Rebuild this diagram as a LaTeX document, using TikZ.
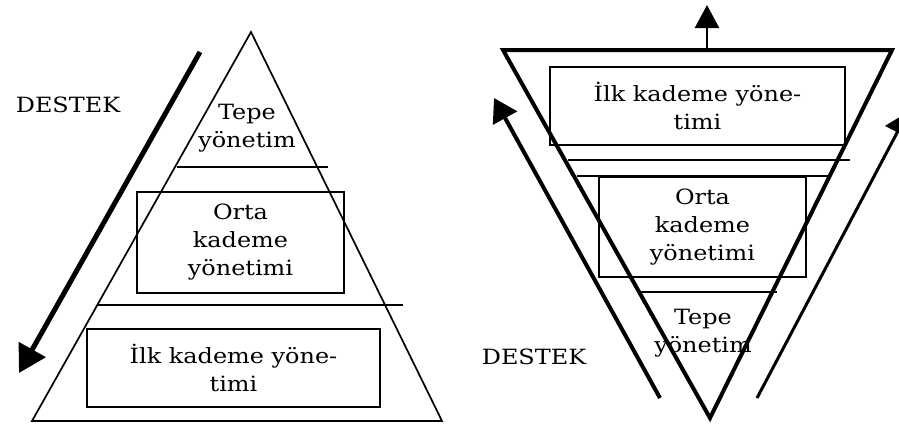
\documentclass[tikz,border=0pt]{standalone}
\usepackage{fontspec}
\setmainfont{DejaVu Serif}[FakeStretch=1.14]
\usetikzlibrary{arrows.meta}
\tikzset{
  lbl/.style={align=center, font=\fontsize{21}{28}\selectfont, inner sep=0pt},
  levelbox/.style={draw, line width=1.2pt, align=center,
    font=\fontsize{21}{28}\selectfont, inner sep=0pt},
  divider/.style={line width=1.2pt},
  thin tri/.style={line width=1.7pt, line join=miter},
  thick tri/.style={line width=4pt, line join=miter},
}
\begin{document}
\begin{tikzpicture}[x=1pt, y=-1pt]
\useasboundingbox (0,0) rectangle (899,426);
\clip (0,0) rectangle (899,426);

% ---------- Left: classic pyramid ----------
\coordinate (LA) at (251,32);
\coordinate (LB) at (32,421);
\coordinate (LC) at (442,421);
\draw[thin tri] (LA) -- (LB) -- (LC) -- cycle;

\coordinate (l1a) at (177,167); \coordinate (l1b) at (328,167);
\coordinate (l2a) at (98,305);  \coordinate (l2b) at (403,305);
\draw[divider] (l1a) -- (l1b);
\draw[divider] (l2a) -- (l2b);

\node[lbl] (ltepe) at (247,128) {Tepe\\yönetim};
\node[levelbox, minimum width=207pt, minimum height=101pt]
      (lorta) at (240.5,242.5) {Orta\\kademe\\yönetimi};
\node[levelbox, minimum width=293pt, minimum height=78pt]
      (lilk) at (233.5,368) {İlk kademe yöne-\\timi};

\node[lbl] (ldestek) at (68,105) {DESTEK};
\coordinate (larrS) at (200,52);
\coordinate (larrE) at (19,373);
\draw[line width=5pt, -{Triangle[length=27pt,width=30pt]}] (larrS) -- (larrE);

% ---------- Right: inverted pyramid ----------
\coordinate (RA) at (503,50);
\coordinate (RB) at (892,50);
\coordinate (RC) at (710,418);
\draw[thick tri] (RA) -- (RB) -- (RC) -- cycle;

\coordinate (r1a) at (568,160); \coordinate (r1b) at (850,160);
\coordinate (r2a) at (577,176); \coordinate (r2b) at (830,176);
\coordinate (r3a) at (638,292); \coordinate (r3b) at (777,292);
\draw[divider] (r1a) -- (r1b);
\draw[divider] (r2a) -- (r2b);
\draw[divider] (r3a) -- (r3b);

\node[levelbox, minimum width=295pt, minimum height=78pt]
      (rilk) at (697.5,106) {İlk kademe yöne-\\timi};
\node[levelbox, minimum width=207pt, minimum height=100pt]
      (rorta) at (702.5,227) {Orta\\kademe\\yönetimi};
\node[lbl] (rtepe) at (703,333) {Tepe\\yönetim};
\node[lbl] (rdestek) at (534,357) {DESTEK};

\coordinate (upS) at (707,50);
\coordinate (upE) at (707,5);
\draw[line width=2.5pt, -{Triangle[length=23pt,width=24pt]}] (upS) -- (upE);

\coordinate (rlS) at (660,398);
\coordinate (rlE) at (494,98);
\draw[line width=4pt, -{Triangle[length=23pt,width=27pt]}] (rlS) -- (rlE);

\coordinate (rrS) at (757,398);
\coordinate (rrE) at (908,112);
\draw[line width=3pt, -{Triangle[length=23pt,width=27pt]}] (rrS) -- (rrE);
\end{tikzpicture}
\end{document}
